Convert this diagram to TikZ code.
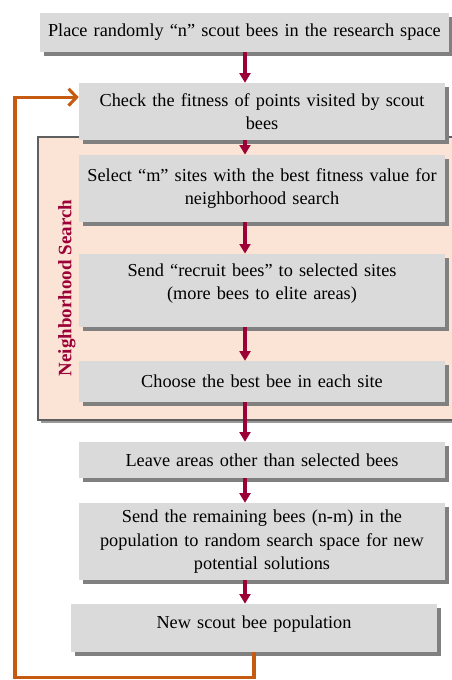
\documentclass[tikz,border=0pt]{standalone}
\usepackage{fontspec}
\setmainfont{Liberation Serif}
\usepackage{tikz}
\usetikzlibrary{arrows.meta, shadows}
\definecolor{boxgray}{RGB}{218,218,218}
\definecolor{shadowgray}{RGB}{128,128,128}
\definecolor{framepeach}{RGB}{251,228,214}
\definecolor{frameedge}{RGB}{95,95,95}
\definecolor{mymaroon}{RGB}{155,0,55}
\definecolor{myorange}{RGB}{197,90,17}
\tikzset{
  stepbox/.style={rectangle, fill=boxgray, align=center,
    minimum width=9.15cm, text width=8.9cm, inner sep=2pt,
    font=\fontsize{13}{16.5}\selectfont,
    drop shadow={shadow xshift=0.1cm, shadow yshift=-0.1cm,
      fill=shadowgray, opacity=1}},
  frameline/.style={draw=frameedge, fill=framepeach, line width=1.2pt,
    drop shadow={shadow xshift=0.08cm, shadow yshift=-0.08cm,
      fill=shadowgray, opacity=0.8}},
  arrow/.style={-{Triangle[length=0.24cm, width=0.27cm]},
    line width=2.3pt, color=mymaroon},
  looparrow/.style={-{Straight Barb[length=0.2cm, width=0.42cm]},
    line width=2.2pt, color=myorange}
}

\begin{document}
\begin{tikzpicture}
  \useasboundingbox (0,0) rectangle (11.3,-17);

  % ── Neighborhood search frame ──────────────────────────────────────────────
  \path[frameline] (0.95,-3.425) rectangle (11.6,-10.5);
  \node[rotate=90, font=\fontsize{13.5}{16}\selectfont\bfseries, color=mymaroon]
    (nslabel) at (1.675,-7.2) {Neighborhood Search};

  % ── Steps ──────────────────────────────────────────────────────────────────
  \node[stepbox, minimum width=10.225cm, text width=10cm, minimum height=0.975cm]
    (place) at (6.11,-0.81) {Place randomly “n” scout bees in the research space};
  \node[stepbox, minimum height=1.425cm] (check) at (6.55,-2.79)
    {Check the fitness of points visited by scout\\ bees};
  \node[stepbox, minimum height=1.675cm] (select) at (6.55,-4.71)
    {Select “m” sites with the best fitness value for\\ neighborhood search};
  \node[stepbox, minimum height=1.825cm] (recruit) at (6.55,-7.26)
    {Send “recruit bees” to selected sites\\ (more bees to elite areas)\\[-4pt] \mbox{}};
  \node[stepbox, minimum height=1.025cm] (choose) at (6.55,-9.54)
    {Choose the best bee in each site};
  \node[stepbox, minimum height=0.9cm] (leave) at (6.55,-11.5)
    {Leave areas other than selected bees};
  \node[stepbox, minimum height=1.925cm] (remain) at (6.55,-13.54)
    {Send the remaining bees (n-m) in the\\ population to random search space for new\\ potential solutions};
  \node[stepbox, minimum height=1.2cm] (newpop) at (6.35,-15.7)
    {New scout bee population\\[-8pt] \mbox{}};

  % ── Flow arrows (one column) ───────────────────────────────────────────────
  \coordinate (axis) at (6.125,0);
  \draw[arrow] (place.south -| axis) -- (check.north -| axis);
  \draw[arrow] (check.south -| axis) -- (select.north -| axis);
  \draw[arrow] (select.south -| axis) -- (recruit.north -| axis);
  \draw[arrow] (recruit.south -| axis) -- (choose.north -| axis);
  \draw[arrow] (choose.south -| axis) -- (leave.north -| axis);
  \draw[arrow] (leave.south -| axis) -- (remain.north -| axis);
  \draw[arrow] (remain.south -| axis) -- (newpop.north -| axis);

  % ── Loop back to fitness check ─────────────────────────────────────────────
  \coordinate (loop) at (0.375,-16.93);
  \draw[looparrow] (newpop.south) |- (loop) |- ([yshift=0.36cm]check.west);
\end{tikzpicture}
\end{document}
